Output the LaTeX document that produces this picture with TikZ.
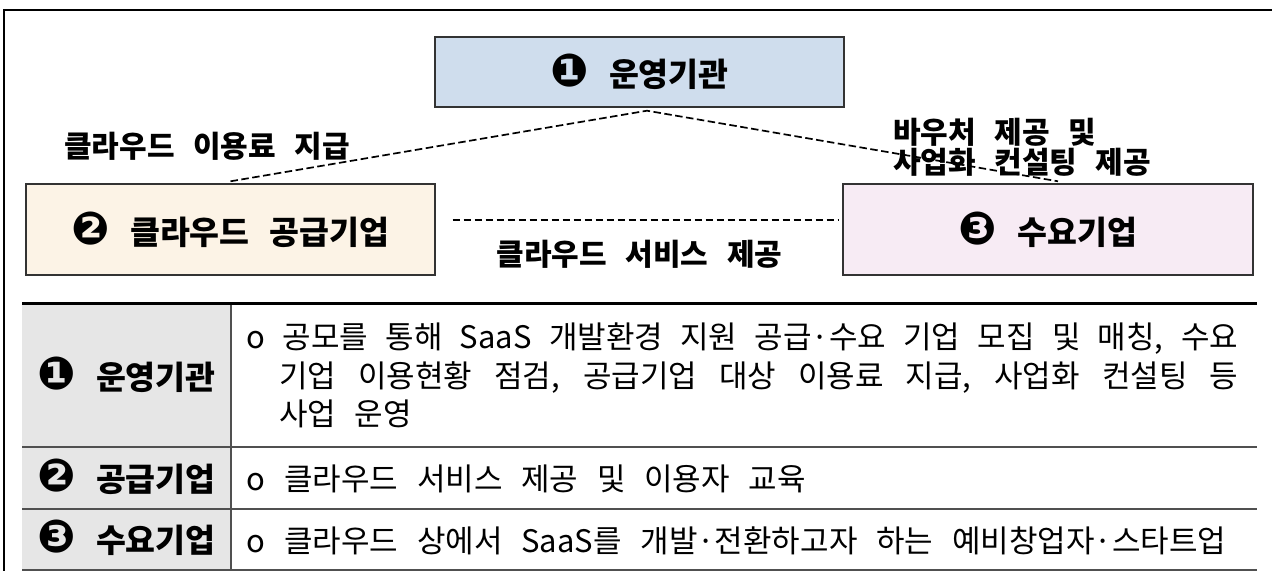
\documentclass[tikz,border=0pt]{standalone}
\usepackage{fontspec}
\setmainfont{Noto Sans CJK KR}[WordSpace=2.7]
\newfontfamily\dingfont{DejaVu Sans}[Scale=1.4]
\newcommand\numc[1]{{\dingfont\bfseries #1}}
\definecolor{fillA}{HTML}{CFDDED}
\definecolor{fillB}{HTML}{FCF3E6}
\definecolor{fillC}{HTML}{F7EBF4}
\definecolor{hdrgray}{HTML}{E6E6E6}
\definecolor{rulegray}{HTML}{505050}
\tikzset{
  boxst/.style={draw=black!80, line width=1.4pt, inner sep=0pt, minimum width=409pt,
    font=\fontsize{32.5}{37}\selectfont\bfseries},
  dashline/.style={line width=1.7pt, dash pattern=on 7.5pt off 3.5pt},
  elabel/.style={inner sep=0pt, font=\fontsize{30}{30}\selectfont\bfseries},
  hdr/.style={inner sep=0pt, anchor=base, font=\fontsize{32.5}{37}\selectfont\bfseries},
  bodytext/.style={inner sep=0pt, anchor=base west, font=\fontsize{31}{37}\selectfont},
  rowrule/.style={draw=rulegray, line width=1.2pt},
}
\begin{document}
\begin{tikzpicture}[x=1pt, y=-1pt]
\useasboundingbox (0,0) rectangle (1272,571);
% outer frame
\draw[line width=1.3pt] (1272,10) -- (4,10) -- (4,571);
% boxes
\node[boxst, fill=fillA, minimum height=70pt] (b1) at (639.5,72) {\numc{❶} 운영기관};
\node[boxst, fill=fillB, minimum height=91pt] (b2) at (230.5,229.5) {\numc{❷} 클라우드 공급기업};
\node[boxst, fill=fillC, minimum height=91pt, minimum width=410pt] (b3) at (1048,229.5) {\numc{❸} 수요기업};
% connectors
\draw[dashline] ([yshift=2pt]b2.north) -- ([xshift=7.5pt,yshift=-3pt]b1.south) -- ([xshift=10pt,yshift=2pt]b3.north);
\draw[dashline] ([xshift=17pt,yshift=9.5pt]b2.east) -- ([xshift=-3pt,yshift=9.5pt]b3.west);
% connector labels
\node[elabel, anchor=base west] (l1) at (64,157.5) {클라우드 이용료 지급};
\node[elabel, anchor=base west] (l2a) at (893,143.5) {바우처 제공 및};
\node[elabel, anchor=base west] (l2b) at (893,173.5) {사업화 컨설팅 제공};
\node[elabel, anchor=base] (l3) at (639.5,265.5) {클라우드 서비스 제공};
% table
\fill[hdrgray] (22,303) rectangle (231,570);
\draw[rowrule] (22,447) -- (1257,447);
\draw[rowrule] (22,509) -- (1257,509);
\draw[rowrule] (22,570) -- (1257,570);
\draw[rowrule] (231,303) -- (231,570);
\draw[line width=3pt] (22,303) -- (1257,303);
\node[hdr] (h1) at (126.5,389.5) {\numc{❶} 운영기관};
\node[hdr] (h2) at (126.5,491) {\numc{❷} 공급기업};
\node[hdr] (h3) at (126.5,552) {\numc{❸} 수요기업};
\node[bodytext] (t1a) at (246.5,348.5) {\makebox[991.5pt][s]{o 공모를 통해 SaaS 개발환경 지원 공급·수요 기업 모집 및 매칭, 수요}};
\node[bodytext] (t1b) at (279,387) {\makebox[959pt][s]{기업 이용현황 점검, 공급기업 대상 이용료 지급, 사업화 컨설팅 등}};
\node[bodytext] (t1c) at (279,425.5) {사업 운영};
\node[bodytext] (t2) at (246.5,490.5) {o 클라우드 서비스 제공 및 이용자 교육};
\node[bodytext] (t3) at (246.5,552) {o 클라우드 상에서 SaaS를 개발·전환하고자 하는 예비창업자·스타트업};
\end{tikzpicture}
\end{document}
